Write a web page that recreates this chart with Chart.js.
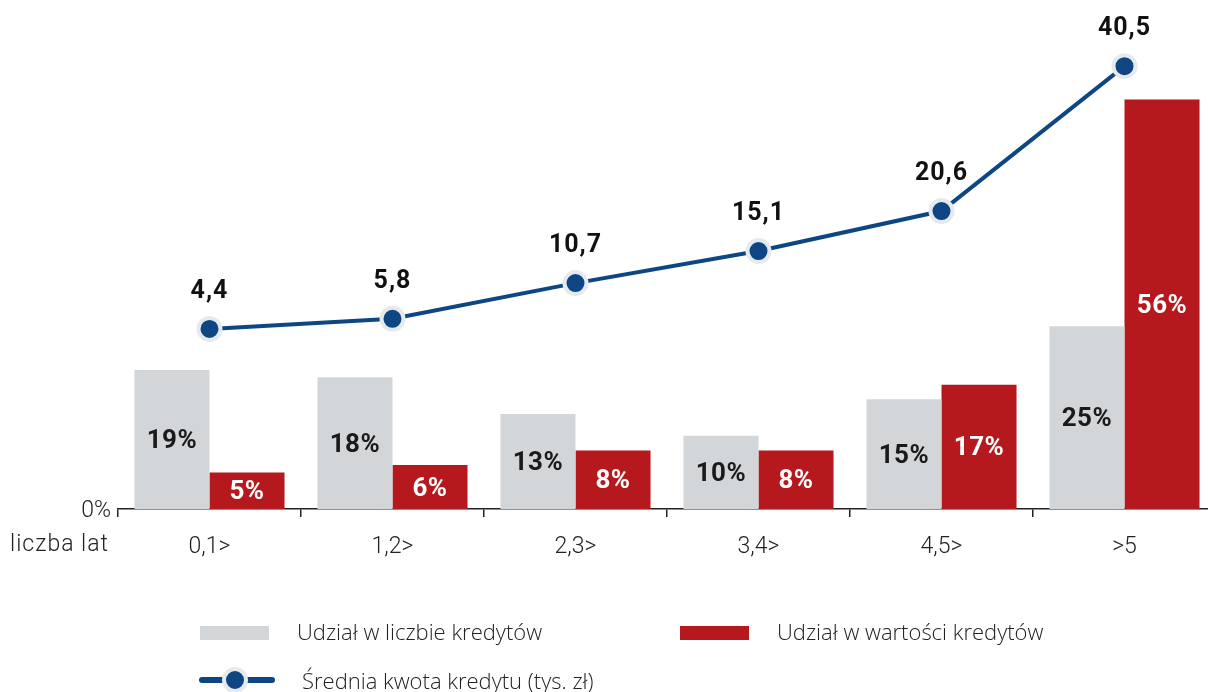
<!DOCTYPE html>
<html lang="pl">
<head>
<meta charset="utf-8">
<script src="https://cdn.jsdelivr.net/npm/chart.js@4"></script>
<style>
  html, body { margin: 0; padding: 0; background: #fff; overflow: hidden; }
  #wrap { position: relative; width: 1216px; height: 692px; }
  .leg { position: absolute; font-family: "Open Sans", sans-serif; font-weight: 300; font-size: 22px; color: #222; line-height: 1; white-space: nowrap; }
  .sw { position: absolute; }
</style>
</head>
<body>
<div id="wrap">
  <canvas id="chart" width="1216" height="692"></canvas>
  <div id="legend"></div>
</div>
<script>
// dane wykresu
const kategorie = ['0,1>', '1,2>', '2,3>', '3,4>', '4,5>', '>5'];
const udzialLiczba = [19, 18, 13, 10, 15, 25];
const udzialWartosc = [5, 6, 8, 8, 17, 56];
const sredniaKwota = [4.4, 5.8, 10.7, 15.1, 20.6, 40.5];

const SZARY = '#d3d6d9';
const CZERWONY = '#b5191d';
const NIEBIESKI = '#0d4682';
const OBWODKA = '#e6eaed';

// podpisy wartości (bez pluginu datalabels)
const podpisy = {
  id: 'podpisy',
  afterDatasetsDraw(chart) {
    const ctx = chart.ctx;
    ctx.save();
    ctx.textAlign = 'center';
    ctx.textBaseline = 'middle';
    chart.data.datasets.forEach((ds, i) => {
      const meta = chart.getDatasetMeta(i);
      meta.data.forEach((el, j) => {
        const v = ds.data[j];
        if (ds.type === 'line') {
          ctx.font = 'bold 25px Roboto, sans-serif';
          ctx.letterSpacing = '1px';
          ctx.fillStyle = '#111';
          ctx.fillText(v.toFixed(1).replace('.', ','), el.x, el.y - 37);
        } else {
          ctx.font = 'bold 26px Roboto, sans-serif';
          ctx.letterSpacing = '0.5px';
          ctx.fillStyle = ds.backgroundColor === SZARY ? '#1a1a1a' : '#fff';
          ctx.fillText(v + '%', el.x, (el.y + el.base) / 2 + 2);
        }
      });
    });
    // 0% i "liczba lat"
    const x = chart.scales.x;
    const y0 = chart.scales.y.getPixelForValue(0);
    ctx.font = '300 23px Roboto, sans-serif';
    ctx.fillStyle = '#222';
    ctx.textAlign = 'right';
    ctx.letterSpacing = '0px';
    ctx.fillText('0%', x.left - 7, y0 + 2);
    ctx.letterSpacing = '1px';
    ctx.fillText('liczba lat', x.left - 9, 545);
    ctx.restore();
  }
};

const chart = new Chart(document.getElementById('chart'), {
  data: {
    labels: kategorie,
    datasets: [
      {
        type: 'line',
        label: 'Średnia kwota kredytu (tys. zł)',
        data: sredniaKwota,
        yAxisID: 'y1',
        borderColor: NIEBIESKI,
        borderWidth: 4,
        pointRadius: 11,
        pointBorderWidth: 4,
        pointBackgroundColor: NIEBIESKI,
        pointBorderColor: OBWODKA,
        order: 0,
      },
      {
        type: 'bar',
        label: 'Udział w liczbie kredytów',
        data: udzialLiczba,
        yAxisID: 'y',
        backgroundColor: SZARY,
        categoryPercentage: 0.82,
        barPercentage: 1,
        order: 1,
      },
      {
        type: 'bar',
        label: 'Udział w wartości kredytów',
        data: udzialWartosc,
        yAxisID: 'y',
        backgroundColor: CZERWONY,
        categoryPercentage: 0.82,
        barPercentage: 1,
        order: 1,
      },
    ],
  },
  options: {
    responsive: false,
    animation: false,
    layout: { autoPadding: false, padding: { left: 118, top: 0, right: 0, bottom: 0 } },
    plugins: { legend: { display: false }, tooltip: { enabled: false } },
    scales: {
      x: {
        offset: true,
        grid: { offset: true, drawOnChartArea: false, drawTicks: true, tickLength: 8, color: '#222', lineWidth: 1.5 },
        border: { display: true, color: '#222', width: 1.5 },
        ticks: { color: '#222', font: { family: 'Roboto', size: 23, weight: 300 }, padding: 16, maxRotation: 0 },
        afterFit(scale) { scale.height = 183; },
      },
      y: { display: false, min: 0, max: 69.6 },
      y1: { display: false, min: -20.33, max: 49.59 },
    },
  },
  plugins: [podpisy],
});

// legenda w HTML
const leg = document.getElementById('legend');
leg.innerHTML =
  '<div class="sw" style="left:200px;top:626px;width:69px;height:14px;background:' + SZARY + '"></div>' +
  '<div class="leg" style="left:297px;top:620px">' + chart.data.datasets[1].label + '</div>' +
  '<div class="sw" style="left:680px;top:626px;width:69px;height:14px;background:' + CZERWONY + '"></div>' +
  '<div class="leg" style="left:777px;top:620px">' + chart.data.datasets[2].label + '</div>' +
  '<div class="sw" style="left:199px;top:677px;width:76px;height:6px;border-radius:3px;background:' + NIEBIESKI + '"></div>' +
  '<div class="sw" style="left:222px;top:667px;width:18px;height:18px;border-radius:50%;background:' + NIEBIESKI + ';border:4px solid ' + OBWODKA + '"></div>' +
  '<div class="leg" style="left:302px;top:669px">' + chart.data.datasets[0].label + '</div>';
</script>
</body>
</html>
